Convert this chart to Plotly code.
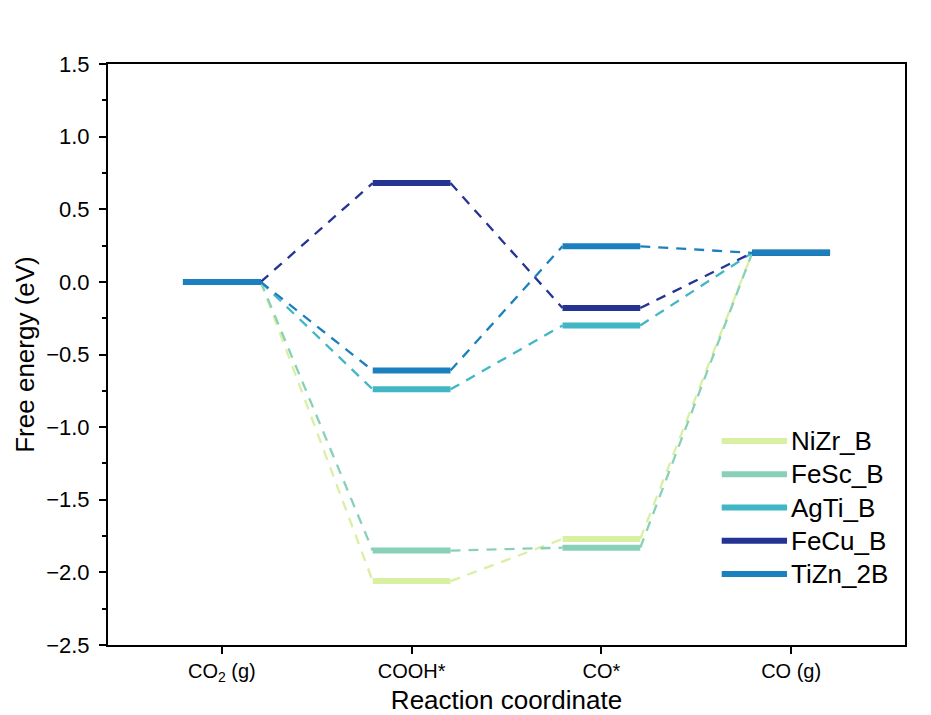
import plotly.graph_objects as go

# ---------------- data ----------------
steps = ["CO<sub>2</sub> (g)", "COOH*", "CO*", "CO (g)"]
series_names = ["NiZr_B", "FeSc_B", "AgTi_B", "FeCu_B", "TiZn_2B"]
NiZr_B = [0.0, -2.06, -1.77, 0.20]
FeSc_B = [0.0, -1.85, -1.83, 0.20]
AgTi_B = [0.0, -0.74, -0.30, 0.20]
FeCu_B = [0.0, 0.68, -0.18, 0.20]
TiZn_2B = [0.0, -0.61, 0.245, 0.20]
series_values = [NiZr_B, FeSc_B, AgTi_B, FeCu_B, TiZn_2B]
colors = ["#d9f0a3", "#88d1b7", "#41b6c4", "#253494", "#1d80be"]

HALF = 0.205  # half width of each level in category units
FONT = "Liberation Sans, Arial, sans-serif"

fig = go.Figure()
xpos = list(range(1, len(steps) + 1))

# dashed connectors
for name, vals, col in zip(series_names, series_values, colors):
    xs, ys = [], []
    for i in range(len(vals) - 1):
        xs += [xpos[i] + HALF, xpos[i + 1] - HALF, None]
        ys += [vals[i], vals[i + 1], None]
    fig.add_trace(go.Scatter(x=xs, y=ys, mode="lines",
                             line=dict(color=col, width=2.3, dash="10px,8px"),
                             showlegend=False, hoverinfo="skip"))

# energy levels
for name, vals, col in zip(series_names, series_values, colors):
    xs, ys = [], []
    for i, v in enumerate(vals):
        xs += [xpos[i] - HALF, xpos[i] + HALF, None]
        ys += [v, v, None]
    fig.add_trace(go.Scatter(x=xs, y=ys, mode="lines", name=name,
                             line=dict(color=col, width=6),
                             showlegend=False))

# custom legend (long line samples)
leg_x0, leg_x1, leg_tx = 0.770, 0.852, 0.855
leg_y0, leg_dy = 0.351, 0.0572
for k, (name, col) in enumerate(zip(series_names, colors)):
    yy = leg_y0 - k * leg_dy
    fig.add_shape(type="line", xref="paper", yref="paper",
                  x0=leg_x0, x1=leg_x1, y0=yy, y1=yy,
                  line=dict(color=col, width=6))
    fig.add_annotation(xref="paper", yref="paper", x=leg_tx, y=yy,
                       text=name, showarrow=False, xanchor="left",
                       yanchor="middle",
                       font=dict(family=FONT, size=26, color="black"))

fig.update_layout(
    width=931, height=715,
    margin=dict(l=108, r=26, t=64, b=70),
    paper_bgcolor="white", plot_bgcolor="white",
    font=dict(family=FONT, color="black"),
    showlegend=False,
)
fig.update_xaxes(
    range=[0.4, 4.6], tickvals=xpos, ticktext=steps,
    showgrid=False, zeroline=False, automargin=False,
    showline=True, linecolor="black", linewidth=2, mirror=True,
    ticks="outside", ticklen=7, tickwidth=1.5, tickcolor="black",
    tickfont=dict(family=FONT, size=20),
    title=dict(text="Reaction coordinate", font=dict(family=FONT, size=26), standoff=8),
)
fig.update_yaxes(
    range=[-2.5, 1.5], dtick=0.5, tickformat=".1f",
    showgrid=False, zeroline=False, automargin=False,
    showline=True, linecolor="black", linewidth=2, mirror=True,
    ticks="outside", ticklen=7, tickwidth=1.5, tickcolor="black",
    ticklabelstandoff=5,
    minor=dict(dtick=0.25, ticks="outside", ticklen=4, tickwidth=1.5, tickcolor="black"),
    tickfont=dict(family=FONT, size=22),
    title=dict(text="Free energy (eV)", font=dict(family=FONT, size=26), standoff=4),
)

fig.write_html("out.html")
